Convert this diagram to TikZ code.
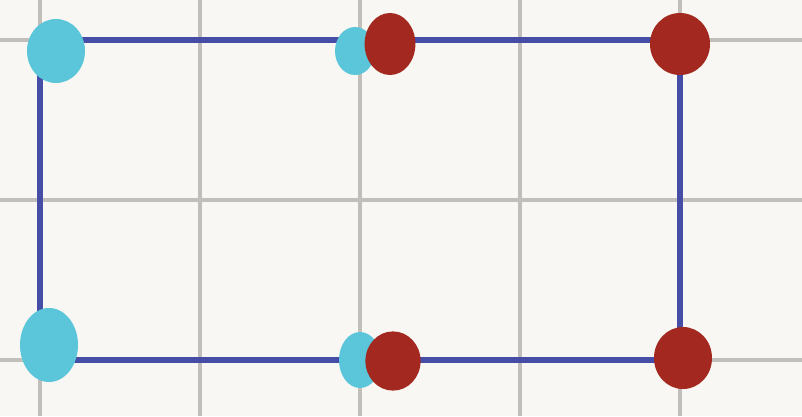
\documentclass[tikz,border=0pt]{standalone}
\usepackage{xcolor}
\usepackage{tikz}
\usetikzlibrary{shapes.geometric, positioning, backgrounds}

\definecolor{paper}{HTML}{F8F7F3}
\definecolor{gridgray}{HTML}{C2BFBA}
\definecolor{edgeblue}{HTML}{464DA6}
\definecolor{dotcyan}{HTML}{5BC5DA}
\definecolor{dotred}{HTML}{A3281F}

\begin{document}
\begin{tikzpicture}[
    x=0.025cm, y=-0.025cm,
    gridline/.style={draw=gridgray, line width=3pt},
    edge/.style={draw=edgeblue, line width=4.5pt},
    cyandot/.style={ellipse, fill=dotcyan, draw=none, inner sep=0pt},
    reddot/.style={ellipse, fill=dotred, draw=none, inner sep=0pt}
]
\useasboundingbox (0,0) rectangle (802,416);
\fill[paper] (0,0) rectangle (802,416);

% paper grid
\foreach \gx in {40,200,360,520,680}
    \draw[gridline] (\gx,0) -- (\gx,416);
\foreach \gy in {40,200,360}
    \draw[gridline] (0,\gy) -- (802,\gy);

% corners of the rectangle
\coordinate (tl) at (40,40);
\coordinate (tm) at (360,40);
\coordinate (tr) at (680,40);
\coordinate (bl) at (40,360);
\coordinate (bm) at (360,360);
\coordinate (br) at (680,360);

\draw[edge] (tl) -- (tm) -- (tr) -- (br) -- (bm) -- (bl) -- cycle;

% blobs
\node[cyandot, minimum width=1.45cm, minimum height=1.6cm] (ctl) at (56,51) {};
\node[cyandot, minimum width=1.0cm, minimum height=1.2cm] (ctm) at (355,51) {};
\node[reddot, minimum width=1.27cm, minimum height=1.55cm] (rtm) at (390,44) {};
\node[reddot, minimum width=1.5cm, minimum height=1.55cm] (rtr) at (680,44) {};
\node[cyandot, minimum width=1.45cm, minimum height=1.85cm] (cbl) at (49,345) {};
\node[cyandot, minimum width=1.05cm, minimum height=1.4cm] (cbm) at (360,360) {};
\node[reddot, minimum width=1.38cm, minimum height=1.48cm] (rbm) at (393,361) {};
\node[reddot, minimum width=1.45cm, minimum height=1.55cm] (rbr) at (683,358) {};
\end{tikzpicture}
\end{document}
